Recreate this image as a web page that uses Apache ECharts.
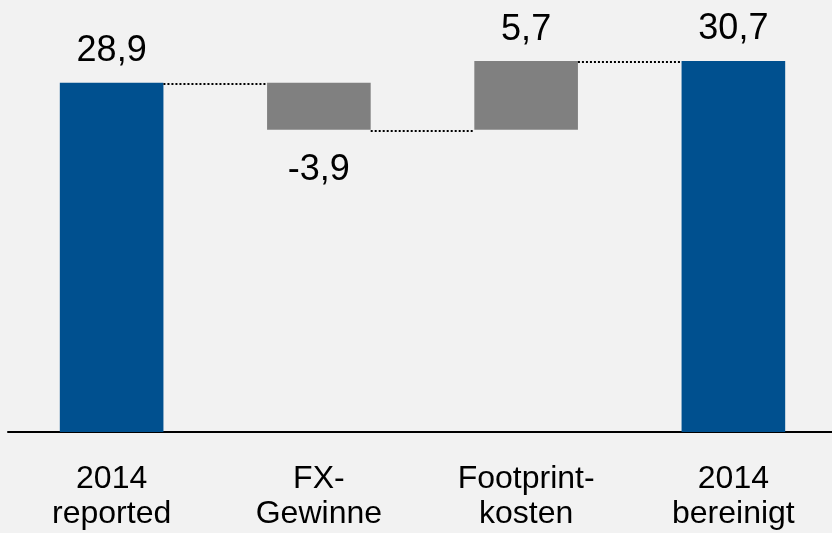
<!DOCTYPE html>
<html>
<head>
<meta charset="utf-8">
<script src="https://cdn.jsdelivr.net/npm/echarts@6/dist/echarts.min.js"></script>
<style>
html,body{margin:0;padding:0;background:#f2f2f2;overflow:hidden;width:832px;height:533px;}
#c{width:840px;height:533px;}
</style>
</head>
<body>
<div id="c"></div>
<script>
var categories = ["2014\nreported", "FX-\nGewinne", "Footprint-\nkosten", "2014\nbereinigt"];
var values = [28.9, -3.9, 5.7, 30.7];
var isTotal = [true, false, false, true];

var FONT = 'Arial, "Liberation Sans", sans-serif';
var BLUE = '#00508f';
var GRAY = '#808080';

// build waterfall base / visible parts and connector levels
var base = [], visible = [], levels = [];
var running = 0;
for (var i = 0; i < values.length; i++) {
  var v = values[i];
  if (isTotal[i]) {
    base.push(0);
    visible.push({value: v, itemStyle: {color: BLUE}, label: {position: 'top', distance: 14}});
    running = v;
  } else {
    var start = running, end = running + v;
    base.push(Math.min(start, end));
    visible.push({value: Math.abs(v), itemStyle: {color: GRAY},
      label: {position: v < 0 ? 'bottom' : 'top', distance: v < 0 ? 22 : 13}});
    running = end;
  }
  levels.push(running);
}
var connectors = [];
for (var j = 0; j < values.length - 1; j++) connectors.push([j, levels[j]]);

function fmt(idx) {
  return String(values[idx]).replace('.', ',');
}

var chart = echarts.init(document.getElementById('c'));
chart.setOption({
  backgroundColor: '#f2f2f2',
  animation: false,
  grid: {left: 8, right: 3, top: 9, bottom: 101},
  xAxis: {
    type: 'category',
    data: categories,
    axisLine: {show: true, lineStyle: {color: '#000', width: 2}},
    axisTick: {show: false},
    axisLabel: {color: '#000', fontSize: 32, lineHeight: 35, fontFamily: FONT, margin: 30, interval: 0}
  },
  yAxis: {type: 'value', min: 0, max: 35, show: false},
  series: [
    {
      type: 'bar', stack: 'w', data: base, barWidth: '50%',
      itemStyle: {color: 'transparent'}, silent: true
    },
    {
      type: 'bar', stack: 'w', data: visible, barWidth: '50%',
      label: {
        show: true, color: '#000', fontSize: 36, fontFamily: FONT,
        formatter: function (p) { return fmt(p.dataIndex); }
      }
    },
    {
      type: 'custom',
      data: connectors,
      renderItem: function (params, api) {
        var idx = api.value(0), lvl = api.value(1);
        var p0 = api.coord([idx, lvl]);
        var p1 = api.coord([idx + 1, lvl]);
        var band = api.size([1, 0])[0];
        var half = band * 0.25;
        var y = Math.round(p0[1] + 1);
        return {
          type: 'line',
          shape: {x1: p0[0] + half, y1: y, x2: p1[0] - half, y2: y},
          style: {stroke: '#000', lineWidth: 2, lineDash: [2, 2]}
        };
      },
      z: 5
    }
  ]
});
</script>
</body>
</html>
